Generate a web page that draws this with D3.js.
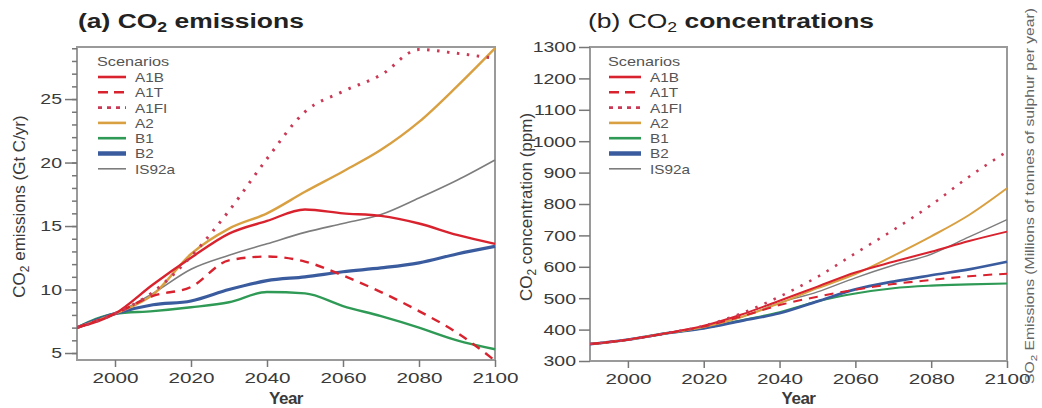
<!DOCTYPE html>
<html><head><meta charset="utf-8">
<script src="https://cdn.jsdelivr.net/npm/d3@7"></script>
<style>body{margin:0;background:#fff;} svg{display:block;font-family:"Liberation Sans",Arial,sans-serif;}</style>
</head><body>
<svg id="c" width="1042" height="408"></svg>
<script>
const years = [1990,2000,2010,2020,2030,2040,2050,2060,2070,2080,2090,2100];
const scenarioNames = ["A1B","A1T","A1FI","A2","B1","B2","IS92a"];

// (a) CO2 emissions, Gt C/yr
const emA1B  = [7.0, 8.1, 10.4, 12.5, 14.4, 15.4, 16.3, 16.0, 15.8, 15.2, 14.3, 13.6];
const emA1T  = [7.0, 8.1, 9.5, 10.2, 12.3, 12.6, 12.2, 11.1, 9.8, 8.3, 6.6, 4.4];
const emA1FI = [7.0, 8.1, 9.8, 12.6, 16.2, 20.3, 24.0, 25.6, 26.9, 28.9, 28.6, 28.2];
const emA2   = [7.0, 8.1, 9.6, 12.8, 14.8, 16.0, 17.7, 19.3, 21.0, 23.2, 26.0, 29.0];
const emB1   = [7.0, 8.1, 8.3, 8.6, 9.0, 9.8, 9.7, 8.7, 7.9, 7.0, 6.0, 5.3];
const emB2   = [7.0, 8.1, 8.8, 9.1, 10.0, 10.7, 11.0, 11.4, 11.7, 12.1, 12.8, 13.4];
const emIS92a= [7.0, 8.1, 9.7, 11.6, 12.7, 13.6, 14.5, 15.2, 15.9, 17.2, 18.6, 20.2];

// (b) CO2 concentrations, ppm
const coA1B  = [354, 368, 388, 412, 448, 492, 537, 582, 616, 648, 682, 712];
const coA1T  = [354, 368, 388, 410, 442, 478, 505, 527, 545, 558, 570, 578];
const coA1FI = [354, 368, 388, 412, 452, 505, 568, 643, 717, 797, 887, 967];
const coA2   = [354, 368, 388, 408, 440, 484, 532, 577, 635, 697, 765, 850];
const coB1   = [354, 368, 388, 405, 430, 455, 490, 515, 532, 540, 544, 547];
const coB2   = [354, 368, 388, 404, 428, 452, 490, 528, 553, 573, 592, 616];
const coIS92a= [354, 368, 388, 408, 440, 485, 520, 565, 605, 640, 695, 750];

const xTicks = [2000,2020,2040,2060,2080,2100];
const emTicks = [5,10,15,20,25];
const coTicks = [300,400,500,600,700,800,900,1000,1100,1200,1300];

const styles = {
  A1B:  {color:"#d8232f", w:2.4, dash:null},
  A1T:  {color:"#d8232f", w:2.4, dash:"9,7"},
  A1FI: {color:"#c93a57", w:3, dash:"2.5,7.5"},
  A2:   {color:"#d9a042", w:2.4, dash:null},
  B1:   {color:"#2f9a55", w:2.4, dash:null},
  B2:   {color:"#3a5c9e", w:3.2, dash:null},
  IS92a:{color:"#7d7d7d", w:1.6, dash:null}
};
const drawOrder = ["B1","B2","IS92a","A2","A1B","A1T","A1FI"];

const svg = d3.select("#c");
const textCol = "#3a3a3a";

// horizontal stretch of text glyphs around their own x anchor
function stretch(sel, k){
  sel.each(function(){
    const x0 = +(this.getAttribute("x")||0);
    this.setAttribute("transform",`translate(${x0},0) scale(${k},1) translate(${-x0},0)`);
  });
}

function panel(opts){
  const g = svg.append("g");
  const x = d3.scaleLinear().domain([1990,2100]).range([opts.left, opts.right]);
  const y = d3.scaleLinear().domain(opts.ydom).range([opts.bottom, opts.top]);
  g.append("rect").attr("x",opts.left).attr("y",opts.top)
    .attr("width",opts.right-opts.left).attr("height",opts.bottom-opts.top)
    .attr("fill","none").attr("stroke","#9a9a9a").attr("stroke-width",2);
  const xa = g.append("g").attr("transform",`translate(0,${opts.bottom})`)
    .call(d3.axisBottom(x).tickValues(xTicks).tickFormat(d3.format("d")).tickSize(7).tickPadding(5));
  xa.select(".domain").remove();
  xa.selectAll("line").attr("stroke","#777").attr("stroke-width",1.5);
  xa.selectAll("text").attr("font-size",15).attr("fill",textCol).call(stretch,1.38);
  if(opts.minor){
    const ya2 = g.append("g").attr("transform",`translate(${opts.left},0)`)
      .call(d3.axisLeft(y).tickValues(opts.minor).tickFormat("").tickSize(5));
    ya2.select(".domain").remove();
    ya2.selectAll("line").attr("stroke","#777").attr("stroke-width",1.5);
  }
  const ya = g.append("g").attr("transform",`translate(${opts.left},0)`)
    .call(d3.axisLeft(y).tickValues(opts.yticks).tickFormat(d3.format("d")).tickSize(opts.tickLen).tickPadding(3));
  ya.select(".domain").remove();
  ya.selectAll("line").attr("stroke","#777").attr("stroke-width",1.5);
  ya.selectAll("text").attr("font-size",15).attr("fill",textCol).call(stretch,1.3);

  const line = d3.line().x((d,i)=>x(years[i])).y(d=>y(d)).curve(d3.curveMonotoneX);
  const clipId = "clip"+opts.id;
  svg.append("clipPath").attr("id",clipId).append("rect")
    .attr("x",opts.left).attr("y",opts.top-2).attr("width",opts.right-opts.left+2).attr("height",opts.bottom-opts.top+4);
  const sg = g.append("g").attr("clip-path",`url(#${clipId})`);
  drawOrder.forEach(name=>{
    const s = styles[name];
    sg.append("path").datum(opts.data[name]).attr("d",line)
      .attr("fill","none").attr("stroke",s.color).attr("stroke-width",s.w*opts.wk)
      .attr("stroke-dasharray",s.dash).attr("stroke-linecap","butt").attr("stroke-linejoin","round");
  });

  const lg = g.append("g");
  lg.append("text").attr("x",opts.legX).attr("y",66).text("Scenarios")
    .attr("font-size",13).attr("fill","#555").call(stretch,1.25);
  scenarioNames.forEach((name,i)=>{
    const yy = 77 + i*15.3;
    const s = styles[name];
    lg.append("line").attr("x1",opts.legX+1).attr("x2",opts.legX+1+opts.legLen)
      .attr("y1",yy).attr("y2",yy).attr("stroke",s.color)
      .attr("stroke-width", name==="B2"?4.5:(name==="IS92a"?1.6:2.6))
      .attr("stroke-dasharray", name==="A1T"?"10,6":(name==="A1FI"?"4,5":null));
    lg.append("text").attr("x",opts.legX+opts.legLen+10).attr("y",yy+5).text(name)
      .attr("font-size",13).attr("fill","#555").call(stretch,1.18);
  });

  g.append("text").attr("x",(opts.left+opts.right)/2).attr("y",404).attr("text-anchor","middle")
    .attr("font-size",17).attr("font-weight","bold").attr("fill",textCol).attr("letter-spacing","-0.5").text("Year");
  const yl = g.append("text").attr("transform",`translate(${opts.ylabX},${(opts.top+opts.bottom)/2+3}) rotate(-90)`)
    .attr("text-anchor","middle").attr("font-size",17).attr("fill",textCol);
  yl.append("tspan").text("CO");
  yl.append("tspan").attr("font-size",12).attr("dy",4).text("2");
  yl.append("tspan").attr("dy",-4).text(opts.ylabRest);
  return {x,y};
}

panel({id:"a", left:77, right:495, top:47, bottom:360, ydom:[4.45,29.1], wk:1,
  yticks:emTicks, minor:d3.range(5,30,1), tickLen:12, legX:97, legLen:28, ylabX:25, ylabRest:" emissions (Gt C/yr)",
  data:{A1B:emA1B,A1T:emA1T,A1FI:emA1FI,A2:emA2,B1:emB1,B2:emB2,IS92a:emIS92a}});
panel({id:"b", left:590, right:1007, top:47, bottom:361, ydom:[300,1300], wk:0.85,
  yticks:coTicks, minor:null, tickLen:11, legX:608, legLen:32, ylabX:532, ylabRest:" concentration (ppm)",
  data:{A1B:coA1B,A1T:coA1T,A1FI:coA1FI,A2:coA2,B1:coB1,B2:coB2,IS92a:coIS92a}});

function title(xp, a, c, boldA){
  const t = svg.append("text").attr("x",xp).attr("y",28).attr("font-size",21).attr("fill","#222");
  t.append("tspan").attr("font-weight",boldA?"bold":"normal").text(a);
  t.append("tspan").attr("font-weight",boldA?"bold":"normal").attr("font-size",14).attr("dy",4).text("2");
  t.append("tspan").attr("font-weight","bold").attr("dy",-4).text(c);
  t.call(stretch,1.26);
}
title(78, "(a) CO", " emissions", true);
title(588, "(b) CO", " concentrations", false);

const so = svg.append("text").attr("transform","translate(1034,384) rotate(-90)")
  .attr("font-size",12).attr("fill","#666").attr("textLength",376).attr("lengthAdjust","spacingAndGlyphs");
so.append("tspan").text("SO");
so.append("tspan").attr("font-size",9).attr("dy",3).text("2");
so.append("tspan").attr("dy",-3).text(" Emissions (Millions of tonnes of sulphur per year)");
</script>
</body></html>
